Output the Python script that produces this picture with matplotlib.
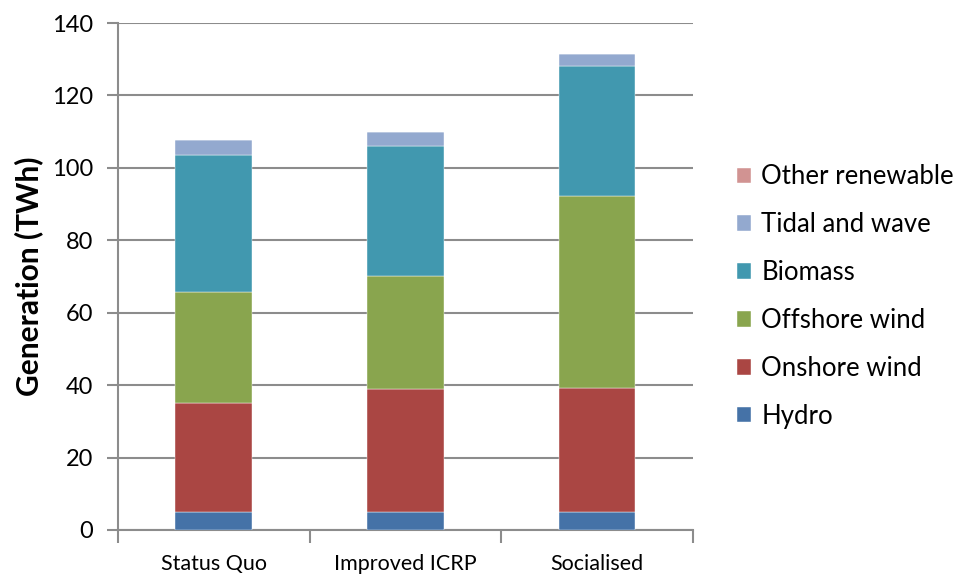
import matplotlib
matplotlib.use("Agg")
import matplotlib.pyplot as plt
import numpy as np

plt.rcParams['font.family'] = ['Lato', 'DejaVu Sans']

scenarios = ["Status Quo", "Improved ICRP", "Socialised"]
hydro = [5.0, 5.0, 5.0]
onshore_wind = [30.0, 34.0, 34.2]
offshore_wind = [30.8, 31.1, 53.1]
biomass = [37.8, 35.9, 35.9]
tidal_wave = [4.1, 3.8, 3.2]
other_renewable = [0.1, 0.1, 0.1]

series = [
    ("Hydro", hydro, "#4572A7"),
    ("Onshore wind", onshore_wind, "#AA4643"),
    ("Offshore wind", offshore_wind, "#89A54E"),
    ("Biomass", biomass, "#4198AF"),
    ("Tidal and wave", tidal_wave, "#93A9CF"),
    ("Other renewable", other_renewable, "#D19392"),
]

fig = plt.figure(figsize=(9.57, 5.77), dpi=100)
ax = fig.add_axes([0.1233, 0.0815, 0.6008, 0.8786])

x = np.arange(len(scenarios))
bottom = np.zeros(len(scenarios))
handles = []
for name, vals, col in series:
    h = ax.bar(x, vals, 0.4, bottom=bottom, color=col, label=name,
               edgecolor="white", linewidth=0.3, zorder=3)
    handles.append(h)
    bottom += np.array(vals)

ax.set_xlim(-0.5, len(scenarios) - 0.5)
ax.set_ylim(0, 140)
ax.set_yticks(np.arange(0, 141, 20))
ax.yaxis.grid(True, color="#8c8c8c", linewidth=1.5, zorder=0)
ax.set_axisbelow(True)

ax.set_xticks(x)
ax.set_xticklabels(scenarios, fontsize=15.5)
ax.set_xticks(np.arange(-0.5, len(scenarios)), minor=True)
ax.tick_params(axis="x", which="major", length=0, pad=17)
ax.tick_params(axis="x", which="minor", length=9, width=1.5, color="#8c8c8c", direction="out")
ax.tick_params(axis="y", length=8, width=1.5, color="#8c8c8c", labelsize=17, pad=10)

for s in ["top", "right"]:
    ax.spines[s].set_visible(False)
for s in ["left", "bottom"]:
    ax.spines[s].set_color("#8c8c8c")
    ax.spines[s].set_linewidth(1.5)

ax.set_ylabel("Generation (TWh)", fontsize=21.5, fontweight="bold", labelpad=6)

leg = fig.legend(handles[::-1], [s[0] for s in series][::-1],
                 loc="center left", bbox_to_anchor=(0.746, 0.486),
                 frameon=False, fontsize=18.5, handlelength=0.55, handleheight=0.55,
                 handletextpad=0.4, labelspacing=0.89)

fig.savefig("out.png", dpi=100)
